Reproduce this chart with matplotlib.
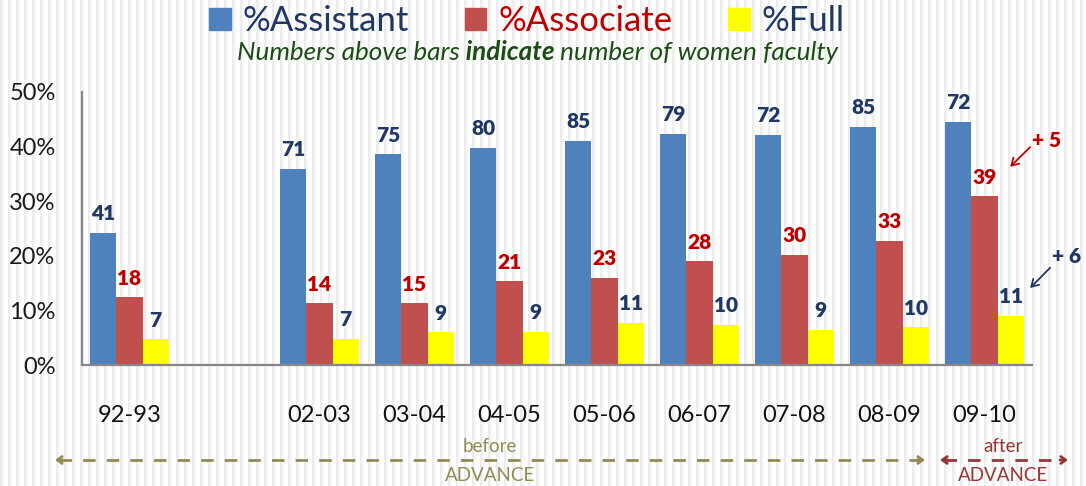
import matplotlib
matplotlib.use('Agg')
import matplotlib.pyplot as plt
import numpy as np
from matplotlib.patches import Patch
from matplotlib.lines import Line2D

# ---------------- data ----------------
categories = ['92-93', '', '02-03', '03-04', '04-05', '05-06', '06-07', '07-08', '08-09', '09-10']
pct_assistant = [24.2, np.nan, 35.9, 38.6, 39.8, 41.1, 42.3, 42.1, 43.6, 44.5]
pct_associate = [12.4, np.nan, 11.3, 11.3, 15.3, 16.0, 19.0, 20.2, 22.7, 30.9]
pct_full = [4.7, np.nan, 4.8, 6.0, 6.1, 7.7, 7.3, 6.4, 6.9, 9.0]
n_assistant = [41, None, 71, 75, 80, 85, 79, 72, 85, 72]
n_associate = [18, None, 14, 15, 21, 23, 28, 30, 33, 39]
n_full = [7, None, 7, 9, 9, 11, 10, 9, 10, 11]
series_names = ['%Assistant', '%Associate', '%Full']
yticks = [0, 10, 20, 30, 40, 50]

# ---------------- style ----------------
FONT = 'Lato'
plt.rcParams['font.family'] = [FONT, 'DejaVu Sans']
C_BLUE = '#4F81BD'
C_RED = '#C0504D'
C_YELLOW = '#FFFF00'
T_BLUE = '#1F3864'
T_RED = '#C00000'
T_GREEN = '#1B4D14'
C_OLIVE = '#948A54'
C_BROWN = '#953735'
W, H = 1086, 486

fig = plt.figure(figsize=(W / 100, H / 100), dpi=100)

# faint striped slide background
bg = fig.add_axes([0, 0, 1, 1], zorder=-10)
xs = np.arange(W)
pattern = np.where(xs % 8 < 2, 0.925, np.where(xs % 8 < 4, 0.965, 1.0))
bg.imshow(np.tile(pattern, (4, 1)), cmap='gray', vmin=0, vmax=1, aspect='auto',
          extent=[0, W, H, 0], interpolation='nearest')
bg.set_xlim(0, W)
bg.set_ylim(H, 0)
bg.axis('off')

ax = fig.add_axes([82 / W, 1 - 365 / H, 950 / W, 273 / H])
ax.set_facecolor('none')
x = np.arange(len(categories))
bw = 0.274

def lab(vals):
    return ['' if v is None else str(v) for v in vals]

b1 = ax.bar(x - bw, pct_assistant, bw, color=C_BLUE, zorder=2)
b2 = ax.bar(x, pct_associate, bw, color=C_RED, zorder=2)
b3 = ax.bar(x + bw, pct_full, bw, color=C_YELLOW, zorder=2)
for bars, vals, col in [(b1, n_assistant, T_BLUE), (b2, n_associate, T_RED), (b3, n_full, T_BLUE)]:
    ax.bar_label(bars, labels=lab(vals), padding=7, color=col, fontsize=15,
                 fontweight='heavy', family=FONT)

ax.set_xlim(-0.5, len(categories) - 0.5)
ax.set_ylim(0, 50)
ax.set_yticks(yticks)
ax.set_yticklabels([f'{t}%' for t in yticks], fontsize=17, color='#1a1a1a')
ax.set_xticks(x)
ax.set_xticklabels(categories, fontsize=17, color='#111111')
ax.tick_params(axis='y', length=0, pad=19)
ax.tick_params(axis='x', length=0, pad=29)
for s in ['top', 'right']:
    ax.spines[s].set_visible(False)
for s in ['left', 'bottom']:
    ax.spines[s].set_color('#878787')
    ax.spines[s].set_linewidth(1.6)

# +5 / +6 annotations
ax.text(9.65, 41.2, '+ 5', color=T_RED, fontsize=15, fontweight='heavy',
        ha='center', va='center', clip_on=False)
ax.annotate('', xy=(9.27, 36.3), xytext=(9.48, 39.9), annotation_clip=False,
            arrowprops=dict(arrowstyle='->,head_length=0.5,head_width=0.3', color=T_RED,
                            lw=1.3, shrinkA=0, shrinkB=0))
ax.text(9.86, 19.8, '+ 6', color=T_BLUE, fontsize=15, fontweight='heavy',
        ha='center', va='center', clip_on=False)
ax.annotate('', xy=(9.48, 14.1), xytext=(9.69, 17.8), annotation_clip=False,
            arrowprops=dict(arrowstyle='->,head_length=0.5,head_width=0.3', color=T_BLUE,
                            lw=1.3, shrinkA=0, shrinkB=0))

# legend
handles = [Patch(color=C_BLUE), Patch(color=C_RED), Patch(color=C_YELLOW)]
leg = fig.legend(handles, series_names, loc='center', bbox_to_anchor=(527 / W, 1 - 21 / H),
                 ncol=3, frameon=False, fontsize=25, handlelength=0.62, handleheight=0.62,
                 columnspacing=1.6, handletextpad=0.35, borderpad=0)
for t, c in zip(leg.get_texts(), [T_BLUE, T_RED, T_BLUE]):
    t.set_color(c)

# subtitle with bold word
ov = fig.add_axes([0, 0, 1, 1], zorder=5)
ov.set_xlim(0, W)
ov.set_ylim(H, 0)
ov.axis('off')
SUB = 18.8
t1 = ov.text(237, 53, 'Numbers above bars', color=T_GREEN, fontsize=SUB, style='italic',
             ha='left', va='center')
t2 = ov.annotate(' indicate', xy=(1, 0), xycoords=t1, va='bottom', ha='left', color=T_GREEN,
                 fontsize=SUB, style='italic', fontweight='bold')
t3 = ov.annotate(' number of women faculty', xy=(1, 0), xycoords=t2, va='bottom', ha='left',
                 color=T_GREEN, fontsize=SUB, style='italic')

# before / after ADVANCE arrows
def dashed_arrow(x0, x1, y, col):
    ov.add_line(Line2D([x0 + 4, x1 - 4], [y, y], color=col, lw=2, ls=(0, (4.5, 4))))
    for xa, xb in [(x0 + 8, x0), (x1 - 8, x1)]:
        ov.annotate('', xy=(xb, y), xytext=(xa, y),
                    arrowprops=dict(arrowstyle='->,head_length=0.35,head_width=0.25',
                                    color=col, lw=2, shrinkA=0, shrinkB=0))

dashed_arrow(55, 925, 460, C_OLIVE)
dashed_arrow(940, 1068, 460, C_BROWN)
ov.text(490, 446, 'before', color=C_OLIVE, fontsize=13.5, ha='center', va='center')
ov.text(490, 475, 'ADVANCE', color=C_OLIVE, fontsize=13.5, ha='center', va='center')
ov.text(1003, 446, 'after', color=C_BROWN, fontsize=13.5, ha='center', va='center')
ov.text(1003, 475, 'ADVANCE', color=C_BROWN, fontsize=13.5, ha='center', va='center')

fig.savefig('out.png', dpi=100)
